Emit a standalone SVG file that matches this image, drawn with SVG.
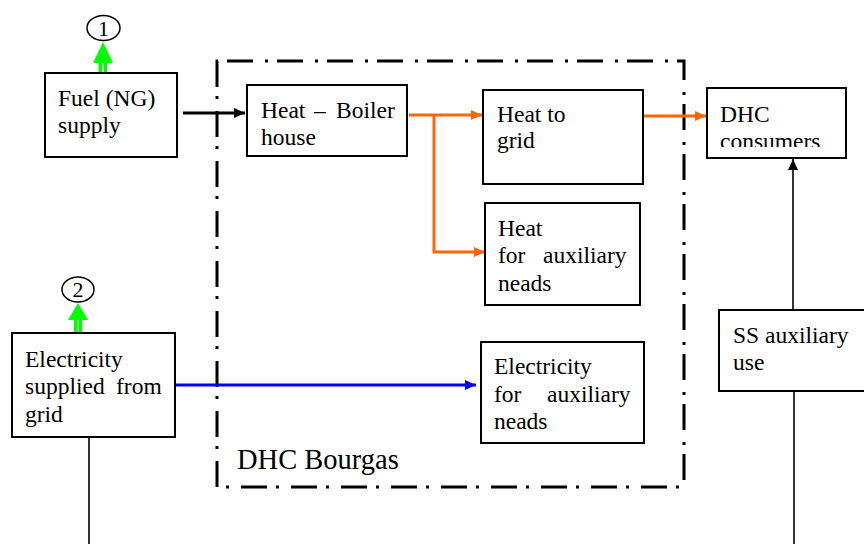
<svg xmlns="http://www.w3.org/2000/svg" width="864" height="544" viewBox="0 0 864 544">
<style>
  .t { font-family: 'Liberation Serif', 'Times New Roman', Times, serif; font-size: 23.5px; fill: #000000; }
  .big { font-family: 'Liberation Serif', 'Times New Roman', Times, serif; font-size: 28.5px; fill: #000000; }
  .num { font-family: 'Liberation Serif', 'Times New Roman', Times, serif; font-size: 22px; fill: #000000; text-anchor: middle; }
  .box { fill: #ffffff; stroke: #000000; stroke-width: 2; }
  .orange { fill: none; stroke: #FF6600; stroke-width: 3; }
  .blue { fill: none; stroke: #0000FF; stroke-width: 3; }
  .black { fill: none; stroke: #000000; stroke-width: 3; }
  .thin { fill: none; stroke: #000000; stroke-width: 1.6; }
  .green { fill: #00FF00; }
  .boundary { fill: none; stroke: #000000; stroke-width: 3; stroke-dasharray: 26 9 3 12; }
</style>
<defs>
  <marker id="ahO" markerUnits="userSpaceOnUse" markerWidth="12" markerHeight="10" refX="11" refY="5" orient="auto">
    <path d="M0,0 L11,5 L0,10 Z" fill="#FF6600"/>
  </marker>
  <marker id="ahB" markerUnits="userSpaceOnUse" markerWidth="12" markerHeight="10" refX="11" refY="5" orient="auto">
    <path d="M0,0 L11,5 L0,10 Z" fill="#0000FF"/>
  </marker>
  <marker id="ahK" markerUnits="userSpaceOnUse" markerWidth="12" markerHeight="10" refX="11" refY="5" orient="auto">
    <path d="M0,0 L11,5 L0,10 Z" fill="#000000"/>
  </marker>
  <clipPath id="clipDHC">
    <rect x="707" y="88" width="139" height="59"/>
  </clipPath>
</defs>

<rect width="864" height="544" fill="#ffffff"/>

<!-- boundary -->
<g id="boundary">
  <path class="boundary" d="M217,61 V487 H684 V61 Z"/>
  <text class="big" x="237" y="469">DHC Bourgas</text>
</g>

<!-- connectors -->
<g id="connectors">
  <line class="black" x1="183" y1="113" x2="245" y2="113" marker-end="url(#ahK)"/>
  <line class="orange" x1="409" y1="115" x2="482" y2="115" marker-end="url(#ahO)"/>
  <polyline class="orange" points="434,115 434,252 485,252" marker-end="url(#ahO)"/>
  <line class="orange" x1="644" y1="116" x2="706" y2="116" marker-end="url(#ahO)"/>
  <line class="blue" x1="176" y1="385" x2="476" y2="385" marker-end="url(#ahB)"/>
  <line class="thin" x1="793" y1="309" x2="793" y2="159" marker-end="url(#ahK)"/>
  <line class="thin" x1="794" y1="391" x2="794" y2="544"/>
  <line class="thin" x1="89" y1="437" x2="89" y2="544"/>
  <g id="out1">
    <path class="green" d="M103,42 L113,63 L93,63 Z"/>
    <rect class="green" x="98.5" y="62" width="3.5" height="11"/>
    <rect class="green" x="103.5" y="62" width="3.5" height="11"/>
  </g>
  <g id="out2">
    <path class="green" d="M78,303 L88,320 L68,320 Z"/>
    <rect class="green" x="74" y="319" width="3.5" height="14"/>
    <rect class="green" x="78.5" y="319" width="3.5" height="14"/>
  </g>
</g>

<g id="marker1">
  <ellipse cx="103.5" cy="28" rx="16.5" ry="12.5" fill="#ffffff" stroke="#000000" stroke-width="1.5"/>
  <text class="num" x="103.5" y="35.5">1</text>
</g>
<g id="marker2">
  <ellipse cx="78" cy="289.5" rx="16" ry="12.5" fill="#ffffff" stroke="#000000" stroke-width="1.5"/>
  <text class="num" x="78" y="297">2</text>
</g>

<g id="fuel">
  <rect class="box" x="45" y="73" width="132" height="84"/>
  <text class="t" x="58" y="106">Fuel (NG)</text>
  <text class="t" x="58" y="133">supply</text>
</g>

<g id="boiler">
  <rect class="box" x="247" y="85" width="160" height="71"/>
  <text class="t" x="261" y="118">Heat</text>
  <text class="t" x="314" y="118">–</text>
  <text class="t" x="336" y="118">Boiler</text>
  <text class="t" x="261" y="145">house</text>
</g>

<g id="heatgrid">
  <rect class="box" x="483" y="90" width="160" height="94"/>
  <text class="t" x="497" y="122">Heat to</text>
  <text class="t" x="497" y="148">grid</text>
</g>

<g id="heataux">
  <rect class="box" x="485" y="203" width="155" height="102"/>
  <text class="t" x="498" y="236">Heat</text>
  <text class="t" x="498" y="263">for</text>
  <text class="t" x="543" y="263">auxiliary</text>
  <text class="t" x="498" y="291">neads</text>
</g>

<g id="elecaux">
  <rect class="box" x="481" y="342" width="163" height="101"/>
  <text class="t" x="494" y="374">Electricity</text>
  <text class="t" x="494" y="402">for</text>
  <text class="t" x="547" y="402">auxiliary</text>
  <text class="t" x="494" y="429">neads</text>
</g>

<g id="elecgrid">
  <rect class="box" x="12" y="333" width="163" height="104"/>
  <text class="t" x="25" y="367">Electricity</text>
  <text class="t" x="25" y="394">supplied</text>
  <text class="t" x="116" y="394">from</text>
  <text class="t" x="25" y="422">grid</text>
</g>

<g id="dhcconsumers">
  <rect class="box" x="707" y="88" width="139" height="70"/>
  <text class="t" x="720" y="122">DHC</text>
  <text class="t" x="720" y="149" clip-path="url(#clipDHC)">consumers</text>
</g>

<g id="ssaux">
  <rect class="box" x="719" y="310" width="150" height="81"/>
  <text class="t" x="733" y="343">SS auxiliary</text>
  <text class="t" x="733" y="370">use</text>
</g>
</svg>
